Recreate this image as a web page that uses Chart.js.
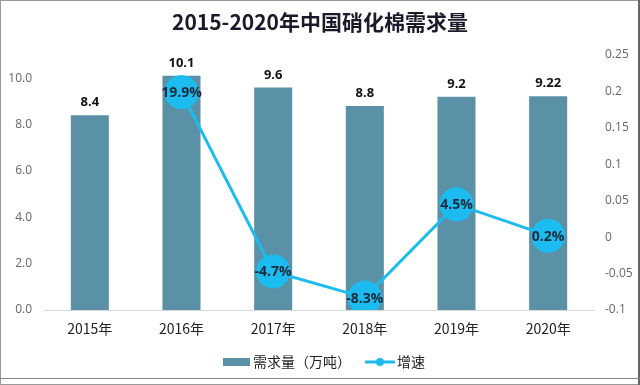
<!DOCTYPE html>
<html>
<head>
<meta charset="utf-8">
<script src="https://cdn.jsdelivr.net/npm/chart.js@4.4.1/dist/chart.umd.min.js"></script>
<style>
html,body{margin:0;padding:0;background:#fff;}
#wrap{width:640px;height:385px;position:relative;}
</style>
</head>
<body>
<div id="wrap"><canvas id="c" width="640" height="385"></canvas></div>
<script>
const titleText = '2015-2020年中国硝化棉需求量';
const categories = ['2015年','2016年','2017年','2018年','2019年','2020年'];
const demand = [8.4, 10.1, 9.6, 8.8, 9.2, 9.22];
const demandLabels = ['8.4','10.1','9.6','8.8','9.2','9.22'];
const growth = [null, 0.199, -0.047, -0.083, 0.045, 0.002];
const growthLabels = ['', '19.9%', '-4.7%', '-8.3%', '4.5%', '0.2%'];
const seriesNames = ['需求量（万吨）', '增速'];

const barColor = '#5b91a7';
const lineColor = '#1dbcf0';
const cjk = '"Noto Sans CJK SC", "Noto Sans", sans-serif';

const labelPlugin = {
  id: 'labels',
  afterDatasetsDraw(chart) {
    const ctx = chart.ctx;
    ctx.save();
    const bm = chart.getDatasetMeta(0);
    ctx.font = 'bold 13px "Open Sans", "Noto Sans", sans-serif';
    ctx.fillStyle = '#111';
    ctx.textAlign = 'center';
    ctx.textBaseline = 'bottom';
    bm.data.forEach((el, i) => {
      ctx.fillText(demandLabels[i], el.x, el.y - 6);
    });
    const lm = chart.getDatasetMeta(1);
    ctx.font = 'bold 14px "Open Sans", "Noto Sans", sans-serif';
    ctx.fillStyle = '#1a2a3a';
    ctx.textBaseline = 'middle';
    lm.data.forEach((el, i) => {
      if (growth[i] === null) return;
      ctx.fillText(growthLabels[i], el.x, el.y + 1);
    });
    ctx.restore();
  },
  afterDraw(chart) {
    const ctx = chart.ctx;
    ctx.save();
    ctx.font = 'bold 21px ' + cjk;
    ctx.fillStyle = '#1a1a2a';
    ctx.textAlign = 'center';
    ctx.textBaseline = 'middle';
    ctx.fillText(titleText, 320, 22);
    const ly = 362;
    ctx.fillStyle = barColor;
    ctx.fillRect(223, ly - 4, 27, 8);
    ctx.font = '14px ' + cjk;
    ctx.fillStyle = '#222';
    ctx.textAlign = 'left';
    ctx.fillText(seriesNames[0], 253, ly);
    ctx.strokeStyle = lineColor;
    ctx.lineWidth = 3;
    ctx.beginPath();
    ctx.moveTo(365, ly);
    ctx.lineTo(395, ly);
    ctx.stroke();
    ctx.fillStyle = lineColor;
    ctx.beginPath();
    ctx.arc(380, ly, 4, 0, Math.PI * 2);
    ctx.fill();
    ctx.fillStyle = '#222';
    ctx.fillText(seriesNames[1], 397, ly);
    ctx.strokeStyle = '#9a9a9a';
    ctx.lineWidth = 1;
    ctx.strokeRect(0.5, 0.5, 639, 384);
    ctx.strokeStyle = '#666';
    ctx.lineWidth = 2;
    ctx.beginPath();
    ctx.moveTo(639, 0); ctx.lineTo(639, 385);
    ctx.stroke();
    ctx.strokeStyle = '#888';
    ctx.lineWidth = 1;
    ctx.beginPath();
    ctx.moveTo(0, 378.5); ctx.lineTo(640, 378.5);
    ctx.stroke();
    ctx.restore();
  }
};

new Chart(document.getElementById('c'), {
  data: {
    labels: categories,
    datasets: [
      {
        type: 'bar',
        label: seriesNames[0],
        data: demand,
        backgroundColor: barColor,
        yAxisID: 'y',
        barPercentage: 0.83,
        categoryPercentage: 0.5,
        order: 2
      },
      {
        type: 'line',
        label: seriesNames[1],
        data: growth,
        borderColor: lineColor,
        backgroundColor: lineColor,
        borderWidth: 3,
        pointRadius: 17,
        pointHoverRadius: 17,
        pointBackgroundColor: lineColor,
        pointBorderWidth: 0,
        yAxisID: 'y1',
        spanGaps: false,
        order: 1
      }
    ]
  },
  options: {
    responsive: false,
    animation: false,
    layout: { padding: { top: 55, bottom: 40, left: 0, right: 0 } },
    plugins: { legend: { display: false }, title: { display: false }, tooltip: { enabled: false } },
    scales: {
      x: {
        grid: { display: false, drawTicks: false },
        border: { display: true, color: '#d9d9d9', width: 1 },
        ticks: { color: '#222', font: { family: cjk, size: 14 }, padding: 10 },
        afterFit(s) { s.height = 35; }
      },
      y: {
        position: 'left',
        min: 0, max: 11,
        grid: { display: false, drawTicks: false },
        border: { display: false },
        ticks: {
          stepSize: 2,
          color: '#666',
          font: { family: '"Open Sans", sans-serif', size: 12 },
          padding: 12,
          callback: (v) => (Math.abs(v % 2) < 1e-9 ? v.toFixed(1) : '')
        },
        afterFit(s) { s.width = 44; }
      },
      y1: {
        position: 'right',
        min: -0.1, max: 0.25,
        grid: { display: false, drawTicks: false },
        border: { display: false },
        ticks: {
          stepSize: 0.05,
          color: '#666',
          font: { family: '"Open Sans", sans-serif', size: 12 },
          padding: 11,
          callback: (v) => String(Math.round(v * 100) / 100)
        },
        afterFit(s) { s.width = 46; }
      }
    }
  },
  plugins: [labelPlugin]
});
</script>
</body>
</html>
